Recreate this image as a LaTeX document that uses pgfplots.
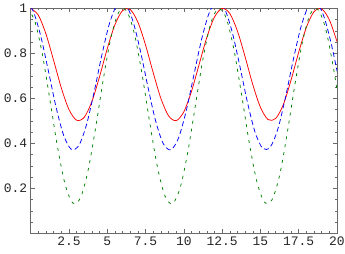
\documentclass[border=0pt]{standalone}
\usepackage{fontspec}
\setmainfont{Liberation Mono}
\usepackage{pgfplots}
\pgfplotsset{compat=1.18}
\definecolor{framegray}{RGB}{105,105,105}
\definecolor{mred}{RGB}{255,0,0}
\definecolor{mblue}{RGB}{0,0,255}
\definecolor{mgreen}{RGB}{0,128,0}
\begin{document}
\begin{tikzpicture}
\useasboundingbox (-30.7bp,-20.7bp) rectangle (314.3bp,233.3bp);
\begin{axis}[
  at={(0,0)}, anchor=south west,
  scale only axis, width=306.3bp, height=225bp,
  xmin=0, xmax=20, ymin=0, ymax=1,
  xtick={2.5,5,7.5,10,12.5,15,17.5,20},
  xticklabels={2.5,5,7.5,10,12.5,15,17.5,20},
  ytick={0.2,0.4,0.6,0.8,1},
  yticklabels={0.2,0.4,0.6,0.8,1},
  minor xtick={0.5,1,...,20},
  minor ytick={0.05,0.1,...,1},
  tick align=inside,
  major tick length=4bp, minor tick length=2bp,
  axis line style={framegray, line width=0.6bp},
  every tick/.style={framegray, line width=0.5bp},
  /pgf/number format/assume math mode=true,
  tick label style={font=\fontsize{13}{15}\selectfont, text=black!85},
  clip=true,
]
\addplot[mred, line width=0.75bp, smooth] table {
x y
0.0 1.0000
0.5 0.9694
1.0 0.8851
1.5 0.7677
2.0 0.6460
2.5 0.5497
3.0 0.5025
3.5 0.5159
4.0 0.5866
4.5 0.6973
5.0 0.8209
5.5 0.9272
6.0 0.9900
6.5 0.9941
7.0 0.9385
7.5 0.8367
8.0 0.7136
8.5 0.5995
9.0 0.5222
9.5 0.5007
10.0 0.5402
10.5 0.6311
11.0 0.7511
11.5 0.8708
12.0 0.9610
12.5 0.9995
13.0 0.9769
13.5 0.8987
14.0 0.7842
14.5 0.6613
15.0 0.5601
15.5 0.5054
16.0 0.5106
16.5 0.5728
17.0 0.6812
17.5 0.8049
18.0 0.9151
18.5 0.9849
19.0 0.9972
19.5 0.9490
20.0 0.8520
};
\addplot[mblue, line width=0.75bp, smooth, dash pattern=on 5bp off 3bp] table {
x y
-0.35 1.0300
0.15 0.9896
0.65 0.8783
1.15 0.7233
1.65 0.5627
2.15 0.4356
2.65 0.3733
3.15 0.3910
3.65 0.4843
4.15 0.6304
4.65 0.7936
5.15 0.9339
5.65 1.0169
6.15 1.0223
6.65 0.9488
7.15 0.8144
7.65 0.6520
8.15 0.5013
8.65 0.3993
9.15 0.3709
9.65 0.4231
10.15 0.5431
10.65 0.7015
11.15 0.8595
11.65 0.9785
12.15 1.0293
12.65 0.9995
13.15 0.8963
13.65 0.7451
14.15 0.5829
14.65 0.4493
15.15 0.3771
15.65 0.3840
16.15 0.4661
16.65 0.6092
17.15 0.7724
17.65 0.9179
18.15 1.0100
18.65 1.0263
19.15 0.9626
19.65 0.8347
20.15 0.6737
};
\addplot[mgreen, line width=0.75bp, smooth, dash pattern=on 3bp off 5bp] table {
x y
-0.25 1.0000
0.25 0.9467
0.75 0.8000
1.25 0.5958
1.75 0.3840
2.25 0.2165
2.75 0.1344
3.25 0.1576
3.75 0.2807
4.25 0.4733
4.75 0.6884
5.25 0.8733
5.75 0.9827
6.25 0.9898
6.75 0.8930
7.25 0.7158
7.75 0.5017
8.25 0.3031
8.75 0.1687
9.25 0.1312
9.75 0.2000
10.25 0.3581
10.75 0.5669
11.25 0.7752
11.75 0.9321
12.25 0.9990
12.75 0.9597
13.25 0.8238
13.75 0.6245
14.25 0.4106
14.75 0.2345
15.25 0.1394
15.75 0.1484
16.25 0.2567
16.75 0.4453
17.25 0.6605
17.75 0.8522
18.25 0.9737
18.75 0.9951
19.25 0.9112
19.75 0.7425
20.25 0.5304
};
\end{axis}
\end{tikzpicture}
\end{document}
